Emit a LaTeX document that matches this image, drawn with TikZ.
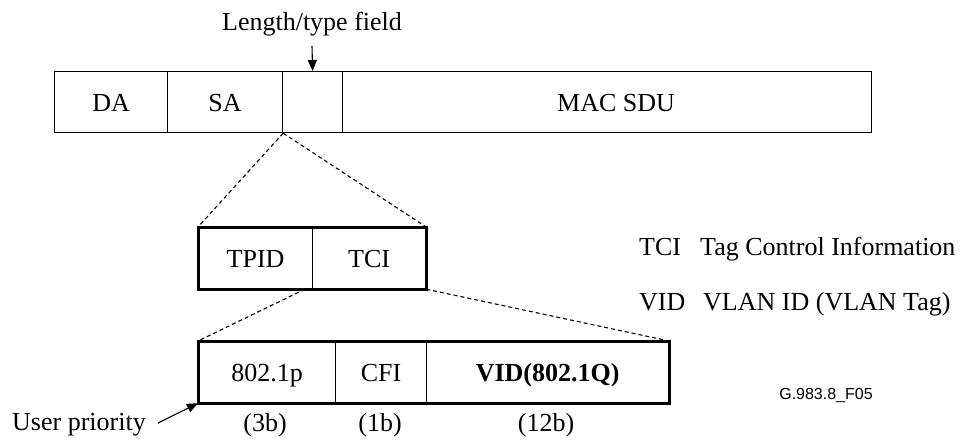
\documentclass[tikz,border=0pt]{standalone}
\usepackage{fontspec}
\setmainfont{Liberation Serif}
\newfontfamily\arialfont{Liberation Sans}
\usetikzlibrary{arrows.meta}
\begin{document}
\begin{tikzpicture}[x=1pt,y=-1pt,
  cell/.style={draw,line width=1.2pt,rectangle,inner sep=0pt,minimum height=61pt,anchor=north west,
    text height=18.5pt,text depth=0pt,font=\fontsize{26}{30}\selectfont},
  txt/.style={font=\fontsize{26}{30}\selectfont,inner sep=0pt},
  thickbox/.style={line width=3pt,line join=miter},
  dashline/.style={line width=1.1pt,dash pattern=on 4pt off 3pt},
  arr/.style={line width=1.1pt,-{Triangle[length=11pt,width=9pt]}}]
\useasboundingbox (0,0) rectangle (966,440);
% top frame
\node[cell,minimum width=113pt] (DA) at (54,71) {DA};
\node[cell,minimum width=115pt] (SA) at (167,71) {SA};
\node[cell,minimum width=60pt] (LT) at (282,71) {};
\node[cell,minimum width=529pt] (MAC) at (342,71) {\hspace{18pt}MAC SDU};
\node[txt] (lt) at (312,24) {Length/type field};
\coordinate (ltarr) at (312,46);
\draw[arr] (ltarr) -- (LT.north);
% middle
\node[cell,minimum width=114pt] (TPID) at (198,227) {TPID};
\node[cell,minimum width=113pt] (TCI) at (312,227) {TCI};
\draw[thickbox] (TPID.north west) rectangle (TCI.south east);
\draw[dashline] (SA.south east) -- (TPID.north west);
\draw[dashline] (SA.south east) -- (TCI.north east);
% bottom
\node[cell,minimum width=137pt] (P) at (198,341) {802.1p};
\node[cell,minimum width=91pt] (CFI) at (335,341) {CFI};
\node[cell,minimum width=242pt] (VID) at (426,341) {\bfseries VID(802.1Q)};
\draw[thickbox] (P.north west) rectangle (VID.south east);
\draw[dashline] ([xshift=-7pt]TCI.south west) -- (P.north west);
\draw[dashline] (TCI.south east) -- (VID.north east);
% bit sizes
\node[txt] (b3) at (265,425) {(3b)};
\node[txt] (b1) at (380,425) {(1b)};
\node[txt] (b12) at (546,425) {(12b)};
% user priority
\node[txt,anchor=east] (up) at (146,425) {User priority};
\coordinate (uptail) at (158,423);
\draw[arr] (uptail) -- (P.south west);
% legend
\node[txt,anchor=base west] (l1a) at (639,255) {TCI};
\node[txt,anchor=base west] (l1b) at (700,255) {Tag Control Information};
\node[txt,anchor=base west] (l2a) at (639,310) {VID};
\node[txt,anchor=base west] (l2b) at (703,310) {VLAN ID (VLAN Tag)};
\node[font=\arialfont\fontsize{16}{18}\selectfont,inner sep=0pt] (fig) at (826,395) {G.983.8\_F05};
\end{tikzpicture}
\end{document}
